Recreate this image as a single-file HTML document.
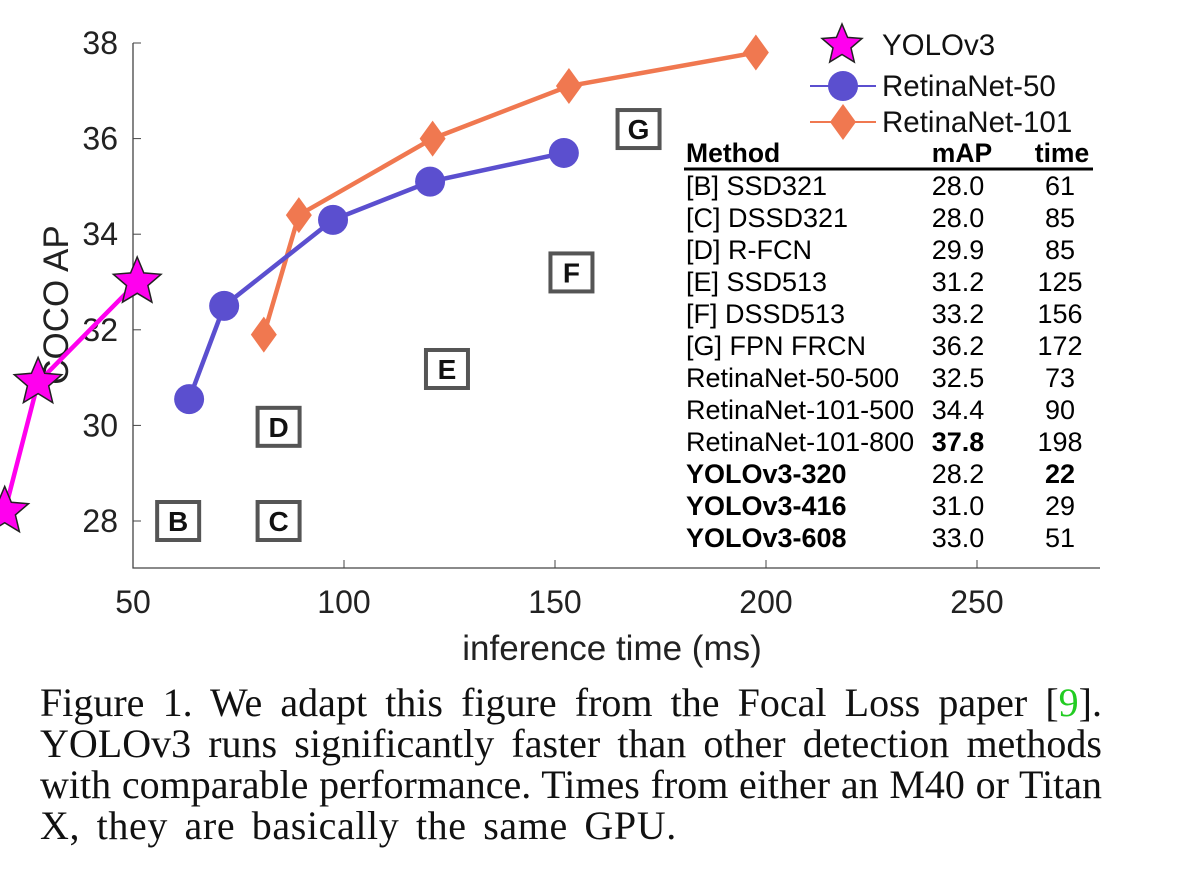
<!DOCTYPE html>
<html><head><meta charset="utf-8"><style>
body{margin:0;background:#fff;width:1200px;height:892px;overflow:hidden;position:relative}
svg text{font-family:"Liberation Sans",sans-serif}
#cap{position:absolute;left:40px;top:682px;width:1062px;font-family:"Liberation Serif",serif;font-size:40px;line-height:41px;color:#111}
#cap div{white-space:nowrap;text-align:justify;text-align-last:justify;height:41px}
#cap div.last{text-align-last:left;word-spacing:6px;letter-spacing:0.6px}
</style></head><body>
<svg id="chart" width="1200" height="680" style="position:absolute;left:0;top:0"></svg>
<div id="cap">
<div>Figure 1. We adapt this figure from the Focal Loss paper [<span style="color:#2c2">9</span>].</div>
<div>YOLOv3 runs significantly faster than other detection methods</div>
<div>with comparable performance. Times from either an M40 or Titan</div>
<div class="last">X, they are basically the same GPU.</div>
</div>
<script>
const xTicks=[50,100,150,200,250];
const yTicks=[28,30,32,34,36,38];
const yoloT=[19.6,27.5,51];const yoloAP=[28.2,30.9,33.0];
const r50T=[63.3,71.6,97.4,120.4,152.1];const r50AP=[30.55,32.5,34.3,35.1,35.7];
const r101T=[81,89.3,121,153.3,197.6];const r101AP=[31.9,34.4,36.0,37.1,37.8];
const boxLabels=['B','C','D','E','F','G'];const boxT=[60.7,84.5,84.5,124.4,153.9,169.8];const boxAP=[28,28,29.97,31.18,33.2,36.2];
const tMethods=['[B] SSD321','[C] DSSD321','[D] R-FCN','[E] SSD513','[F] DSSD513','[G] FPN FRCN','RetinaNet-50-500','RetinaNet-101-500','RetinaNet-101-800','YOLOv3-320','YOLOv3-416','YOLOv3-608'];
const tMap=['28.0','28.0','29.9','31.2','33.2','36.2','32.5','34.4','37.8','28.2','31.0','33.0'];
const tTime=['61','85','85','125','156','172','73','90','198','22','29','51'];
const NS='http://www.w3.org/2000/svg',svg=document.getElementById('chart');
const X=v=>133+(v-50)*4.22, Y=v=>43+(38-v)*47.8;
function el(t,a,p){const e=document.createElementNS(NS,t);for(const k in a)e.setAttribute(k,a[k]);(p||svg).appendChild(e);return e;}
function txt(s,x,y,a){const e=el('text',Object.assign({x:x,y:y,'font-size':32,fill:'#222'},a));e.textContent=s;return e;}
function star(cx,cy,R){let p=[];for(let i=0;i<10;i++){const r=i%2?R*0.45:R,a=-Math.PI/2+i*Math.PI/5;p.push((cx+r*Math.cos(a)).toFixed(1)+','+(cy+r*Math.sin(a)).toFixed(1));}return p.join(' ');}
let a=el('path',{d:'M133 43V568H1100',fill:'none',stroke:'#444','stroke-width':1.3});

xTicks.forEach(v=>{el('line',{x1:X(v),x2:X(v),y1:568,y2:560,stroke:'#444'});const t=txt(v,X(v),613,{'text-anchor':'middle'});});
yTicks.forEach(v=>{el('line',{x1:133,x2:141,y1:Y(v),y2:Y(v),stroke:'#444'});const t=txt(v,118,Y(v)+11,{'text-anchor':'end'});});
let xt=txt('inference time (ms)',612,660,{'text-anchor':'middle','font-size':35});
let yt=txt('COCO AP',0,0,{'text-anchor':'middle','font-size':35,transform:'translate(68,305) rotate(-90)'});
boxLabels.forEach((b,i)=>{const g=el('g',{});
el('rect',{x:X(boxT[i])-21,y:Y(boxAP[i])-19,width:42,height:38,fill:'#fff',stroke:'#555','stroke-width':4},g);
const t=el('text',{x:X(boxT[i]),y:Y(boxAP[i])+10,'text-anchor':'middle','font-size':28,'font-weight':'bold',fill:'#111'},g);t.textContent=b;});
function series(T,A,col,name){const l=el('polyline',{points:T.map((t,i)=>X(t)+','+Y(A[i])).join(' '),fill:'none',stroke:col,'stroke-width':4.5});}
series(r101T,r101AP,'#f07850','retinanet-101');series(r50T,r50AP,'#5b4fcf','retinanet-50');series(yoloT,yoloAP,'#ff00ee','yolov3');
r50T.forEach((t,i)=>{const c=el('circle',{cx:X(t),cy:Y(r50AP[i]),r:15,fill:'#5b4fcf'});});
r101T.forEach((t,i)=>{const x=X(t),y=Y(r101AP[i]);const c=el('polygon',{points:`${x},${y-18} ${x+13},${y} ${x},${y+18} ${x-13},${y}`,fill:'#f07850'});});
yoloT.forEach((t,i)=>{const c=el('polygon',{points:star(X(t),Y(yoloAP[i]),25),fill:'#ff00ee',stroke:'#222','stroke-width':1.5});});
const lg=el('g',{});
el('polygon',{points:star(842,45,21),fill:'#ff00ee',stroke:'#222','stroke-width':1.5},lg);
el('line',{x1:810,x2:876,y1:86,y2:86,stroke:'#5b4fcf','stroke-width':2},lg);el('circle',{cx:843,cy:86,r:15,fill:'#5b4fcf'},lg);
el('line',{x1:810,x2:876,y1:122,y2:122,stroke:'#f07850','stroke-width':2},lg);el('polygon',{points:'843,104 856,122 843,140 830,122',fill:'#f07850'},lg);
[['YOLOv3',45],['RetinaNet-50',86],['RetinaNet-101',122]].forEach(d=>{const t=el('text',{x:882,y:d[1]+10,'font-size':29.5,fill:'#111'},lg);t.textContent=d[0];});
const tb=el('g',{});
[['Method',686,'start'],['mAP',962,'middle'],['time',1062,'middle']].forEach(h=>{const t=el('text',{x:h[1],y:162,'font-size':26.5,'font-weight':'bold','text-anchor':h[2],fill:'#000'},tb);t.textContent=h[0];});
el('line',{x1:684,x2:1093,y1:169,y2:169,stroke:'#000','stroke-width':3},tb);
tMethods.forEach((m,i)=>{const y=195+i*32;const b=i>=9;
let t=el('text',{x:686,y:y,'font-size':27,'font-weight':b?'bold':'normal',fill:'#000'},tb);t.textContent=m;
t=el('text',{x:958,y:y,'font-size':27,'text-anchor':'middle','font-weight':i==8?'bold':'normal',fill:'#000'},tb);t.textContent=tMap[i];
t=el('text',{x:1060,y:y,'font-size':27,'text-anchor':'middle','font-weight':i==9?'bold':'normal',fill:'#000'},tb);t.textContent=tTime[i];});
</script>
</body></html>
